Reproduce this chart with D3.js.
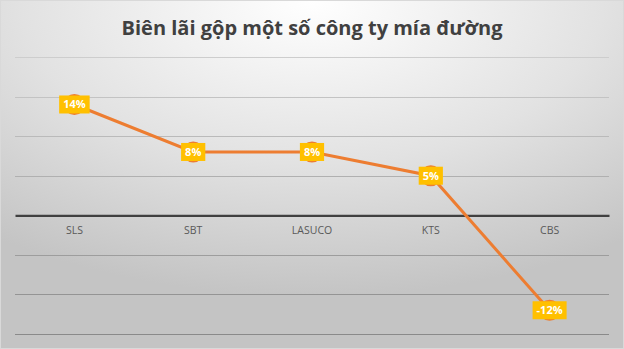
<!DOCTYPE html>
<html>
<head>
<meta charset="utf-8">
<script src="https://cdn.jsdelivr.net/npm/d3@7"></script>
<style>
  body { margin: 0; background: #fff; }
  svg { display: block; }
</style>
</head>
<body>
<div id="chart"></div>
<script>
// data
const companies = ['SLS', 'SBT', 'LASUCO', 'KTS', 'CBS'];
const margins = [0.14, 0.08, 0.08, 0.05, -0.12];
const yTicks = [-0.15, -0.10, -0.05, 0, 0.05, 0.10, 0.15, 0.20];
const title = 'Biên lãi gộp một số công ty mía đường';

const width = 624, height = 349;
const margin = {top: 57, right: 15, bottom: 15, left: 15};

const svg = d3.select('#chart').append('svg')
    .attr('width', width).attr('height', height);

// background gradient like the office chart
const defs = svg.append('defs');
const grad = defs.append('radialGradient')
    .attr('id', 'bg')
    .attr('cx', '50%').attr('cy', '0%').attr('r', '85%')
    .attr('gradientUnits', 'objectBoundingBox');
grad.append('stop').attr('offset', '0%').attr('stop-color', '#ffffff');
grad.append('stop').attr('offset', '55%').attr('stop-color', '#e2e2e2');
grad.append('stop').attr('offset', '100%').attr('stop-color', '#c4c4c4');

svg.append('rect')
    .attr('x', 0.5).attr('y', 0.5)
    .attr('width', width - 1).attr('height', height - 1)
    .attr('fill', 'url(#bg)')
    .attr('stroke', '#d9d9d9');

svg.append('text')
    .attr('x', width / 2).attr('y', 35)
    .attr('text-anchor', 'middle')
    .attr('font-family', 'Open Sans, Noto Sans, sans-serif')
    .attr('font-weight', 'bold')
    .attr('font-size', 20)
    .attr('fill', '#404040')
    .text(title);

const x = d3.scaleBand()
    .domain(companies)
    .range([margin.left, width - margin.right]);

const y = d3.scaleLinear()
    .domain([-0.15, 0.20])
    .range([height - margin.bottom, margin.top]);

// gridlines get darker toward the bottom, as in the picture
const gridColor = d3.scaleLinear()
    .domain([margin.top, height - margin.bottom])
    .range(['#cdcdcd', '#8a8a8a']);

svg.append('g')
    .selectAll('line')
    .data(yTicks.filter(d => d !== 0))
    .join('line')
    .attr('x1', margin.left).attr('x2', width - margin.right)
    .attr('y1', d => Math.round(y(d)) + 0.5).attr('y2', d => Math.round(y(d)) + 0.5)
    .attr('stroke', d => gridColor(y(d)))
    .attr('stroke-width', 1.2);

// zero axis with category labels
const xAxis = svg.append('g')
    .attr('transform', `translate(0,${y(0)})`)
    .call(d3.axisBottom(x).tickSize(0).tickPadding(11));
xAxis.select('.domain')
    .attr('stroke', '#404040')
    .attr('stroke-width', 2.2);
xAxis.selectAll('text')
    .attr('font-family', 'Open Sans, Noto Sans, sans-serif')
    .attr('font-size', 10.5)
    .attr('fill', '#595959');

const cx = d => x(d) + x.bandwidth() / 2;

// series line
const line = d3.line()
    .x((d, i) => cx(companies[i]))
    .y(d => y(d));

svg.append('path')
    .datum(margins)
    .attr('fill', 'none')
    .attr('stroke', '#ed7d31')
    .attr('stroke-width', 3)
    .attr('d', line);

// markers
svg.append('g')
    .selectAll('circle')
    .data(margins)
    .join('circle')
    .attr('cx', (d, i) => cx(companies[i]))
    .attr('cy', d => y(d))
    .attr('r', 10.5)
    .attr('fill', '#ed7d31');

// data labels (plain hyphen for negatives)
const fmt = d => d3.format('.0%')(d).replace('\u2212', '-');
const labels = svg.append('g')
    .selectAll('g')
    .data(margins)
    .join('g')
    .attr('transform', (d, i) => `translate(${cx(companies[i])},${y(d)})`);

labels.each(function(d) {
  const g = d3.select(this);
  const txt = g.append('text')
      .attr('text-anchor', 'middle')
      .attr('dy', '0.36em')
      .attr('font-family', 'Open Sans, Noto Sans, sans-serif')
      .attr('font-weight', 'bold')
      .attr('font-size', 11)
      .attr('fill', '#fff')
      .text(fmt(d));
  const w = txt.node().getComputedTextLength() + 8;
  g.insert('rect', 'text')
      .attr('x', -w / 2).attr('y', -9)
      .attr('width', w).attr('height', 18)
      .attr('fill', '#ffc000');
});
</script>
</body>
</html>
